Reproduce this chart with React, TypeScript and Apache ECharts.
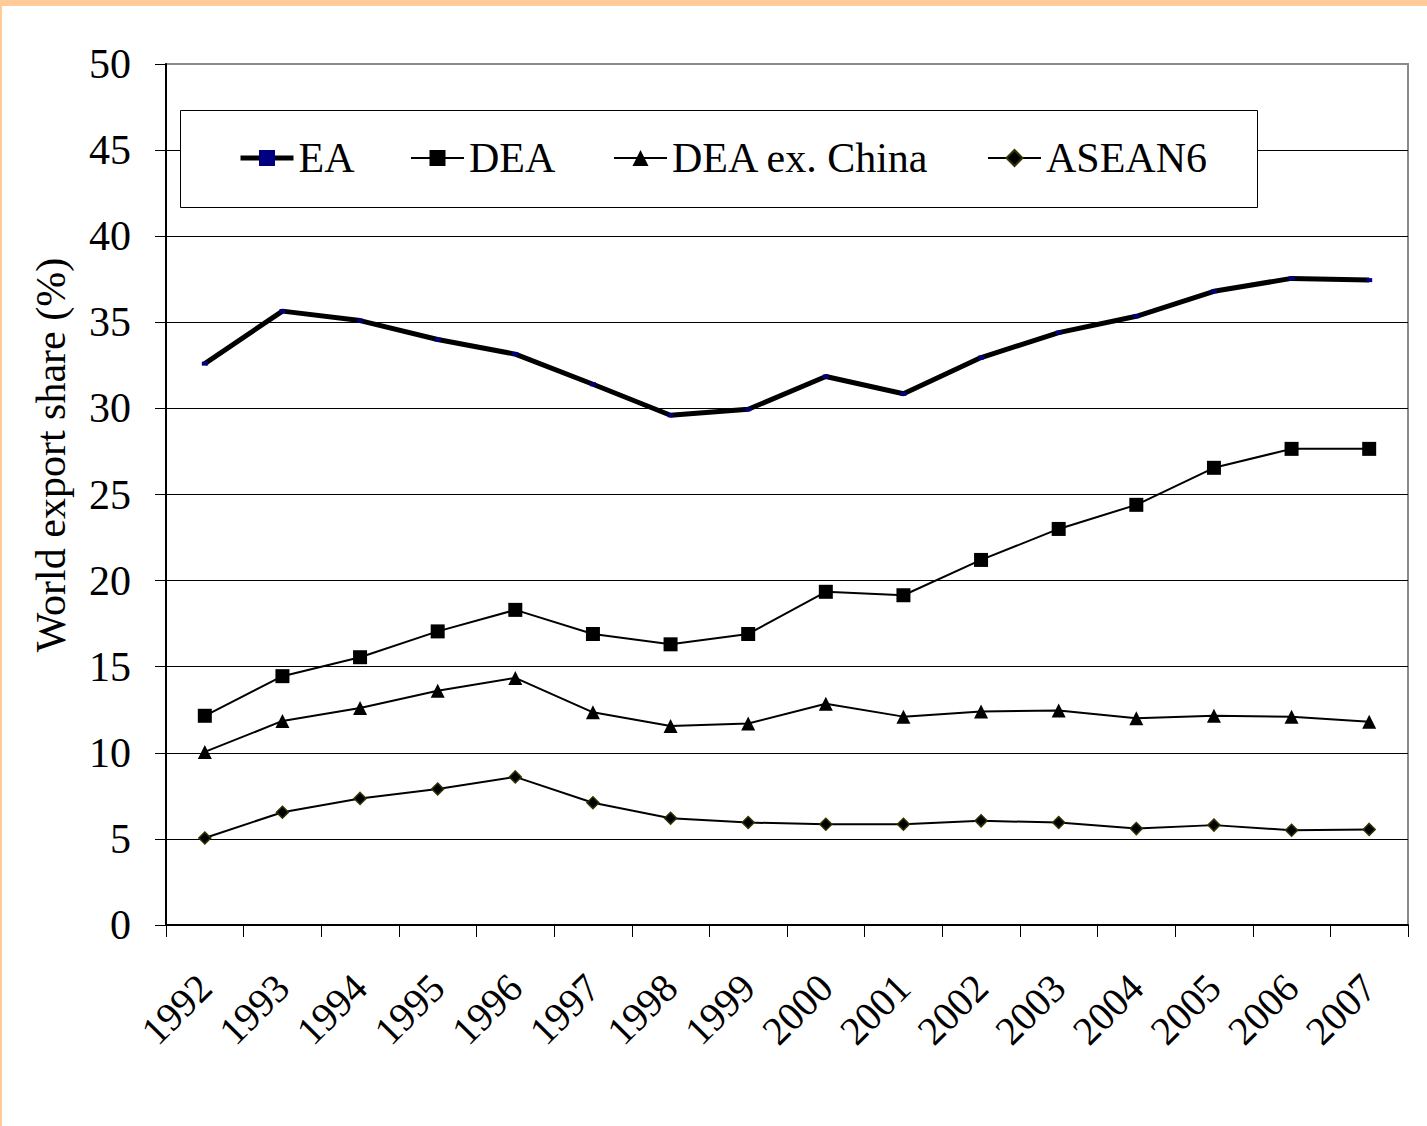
import React, { useEffect, useRef } from "react";
import * as echarts from "echarts";

const years = ["1992","1993","1994","1995","1996","1997","1998","1999","2000","2001","2002","2003","2004","2005","2006","2007"];
const ea = [32.6, 35.65, 35.1, 34.0, 33.15, 31.4, 29.6, 29.95, 31.85, 30.85, 32.95, 34.4, 35.35, 36.8, 37.55, 37.45];
const dea = [12.15, 14.45, 15.55, 17.05, 18.3, 16.9, 16.3, 16.9, 19.35, 19.15, 21.2, 23.0, 24.4, 26.55, 27.65, 27.65];
const deaExChina = [10.05, 11.85, 12.6, 13.6, 14.35, 12.35, 11.55, 11.7, 12.85, 12.1, 12.4, 12.45, 12.0, 12.15, 12.1, 11.8];
const asean6 = [5.05, 6.55, 7.35, 7.9, 8.6, 7.1, 6.2, 5.95, 5.85, 5.85, 6.05, 5.95, 5.6, 5.8, 5.5, 5.55];
const yTicks = { min: 0, max: 50, interval: 5 };
const yAxisTitle = "World export share (%)";

const FONT = "'Liberation Serif', 'Times New Roman', serif";

export default function App() {
  const ref = useRef<HTMLDivElement>(null);
  useEffect(() => {
    document.body.style.margin = "0";
    const chart = echarts.init(ref.current!, null, { renderer: "svg" });
    const legendBase = {
      top: 137,
      padding: 0,
      itemHeight: 20,
      itemWidth: 53,
      textStyle: { fontFamily: FONT, fontSize: 42, color: "#000", lineHeight: 42 },
      itemGap: 0,
      z: 10,
      inactiveColor: "#000",
      selectedMode: false,
      lineStyle: { width: 2 },
    };
    chart.setOption({
      animation: false,
      backgroundColor: "#fff",
      grid: {
        left: 166,
        top: 64,
        right: 19,
        bottom: 201,
        show: true,
        borderColor: "#8a8a8a",
        borderWidth: 2,
        backgroundColor: "transparent",
      },
      graphic: [
        { type: "rect", left: 0, top: 0, z: 0, shape: { x: 0, y: 0, width: 1427, height: 6 }, style: { fill: "#FFCC99" } },
        { type: "rect", left: 0, top: 0, z: 0, shape: { x: 0, y: 0, width: 2, height: 1126 }, style: { fill: "#FFCC99" } },
        {
          type: "rect",
          z: 5,
          shape: { x: 180.5, y: 110.5, width: 1077, height: 97 },
          style: { fill: "#fff", stroke: "#000", lineWidth: 1 },
        },
        {
          type: "text",
          z: 5,
          x: 51,
          y: 455,
          rotation: Math.PI / 2,
          style: {
            text: yAxisTitle,
            fontFamily: FONT,
            fontSize: 42,
            fill: "#000",
            align: "center",
            verticalAlign: "middle",
          },
        },
      ],
      legend: [
        { ...legendBase, left: 238, data: ["EA"], lineStyle: { width: 5 } },
        { ...legendBase, left: 410, data: ["DEA"] },
        { ...legendBase, left: 613, data: ["DEA ex. China"] },
        { ...legendBase, left: 987, data: ["ASEAN6"] },
      ],
      xAxis: {
        type: "category",
        data: years,
        boundaryGap: true,
        axisLine: { lineStyle: { color: "#000", width: 2 } },
        axisTick: { show: true, length: 12, lineStyle: { color: "#000", width: 1 } },
        axisLabel: {
          rotate: 45,
          margin: 56,
          fontFamily: FONT,
          fontSize: 40,
          color: "#000",
        },
        splitLine: { show: false },
      },
      yAxis: {
        type: "value",
        min: yTicks.min,
        max: yTicks.max,
        interval: yTicks.interval,
        axisLine: { show: true, lineStyle: { color: "#000", width: 2 } },
        axisTick: { show: true, length: 11, lineStyle: { color: "#000", width: 1 } },
        axisLabel: { margin: 35, fontFamily: FONT, fontSize: 42, color: "#000" },
        splitLine: { show: true, showMaxLine: false, showMinLine: false, lineStyle: { color: "#000", width: 1 } },
      },
      series: [
        {
          name: "EA",
          type: "line",
          data: ea,
          symbol: "rect",
          symbolSize: [6, 4],
          showAllSymbol: true,
          lineStyle: { color: "#000", width: 5 },
          itemStyle: { color: "#000080", borderWidth: 0 },
          z: 3,
        },
        {
          name: "DEA",
          type: "line",
          data: dea,
          symbol: "rect",
          symbolSize: 14,
          lineStyle: { color: "#000", width: 2 },
          itemStyle: { color: "#000", borderWidth: 0 },
          z: 3,
        },
        {
          name: "DEA ex. China",
          type: "line",
          data: deaExChina,
          symbol: "triangle",
          symbolSize: 14,
          lineStyle: { color: "#000", width: 2 },
          itemStyle: { color: "#000", borderWidth: 0 },
          z: 3,
        },
        {
          name: "ASEAN6",
          type: "line",
          data: asean6,
          symbol: "diamond",
          symbolSize: 12,
          lineStyle: { color: "#000", width: 2 },
          itemStyle: { color: "#000", borderColor: "#333300", borderWidth: 1.5 },
          z: 3,
        },
      ],
    });
    return () => chart.dispose();
  }, []);
  return <div ref={ref} style={{ position: "absolute", left: 0, top: 0, width: 1427, height: 1126 }} />;
}
